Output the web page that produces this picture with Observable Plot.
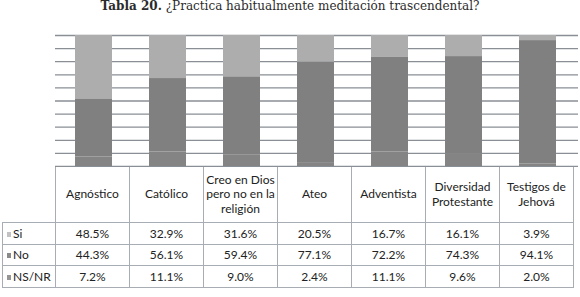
<!DOCTYPE html>
<html><head><meta charset="utf-8">
<script src="https://cdn.jsdelivr.net/npm/d3@7"></script>
<script src="https://cdn.jsdelivr.net/npm/@observablehq/plot@0.6"></script>
<style>
body{margin:0;background:#fff;width:580px;height:297px;overflow:hidden;}
#title{font-family:"DejaVu Serif",serif;font-size:12px;color:#2b2b2b;height:20px;line-height:13px;text-align:center;white-space:nowrap;padding-top:0;}
#chart svg{display:block;}
table{border-collapse:collapse;table-layout:fixed;font-family:Lato,sans-serif;font-size:12px;color:#222;margin-left:2px;margin-top:-1px;}
td{border:1px solid #a7adb3;text-align:center;padding:0;overflow:hidden;}
td.lab{text-align:left;padding-left:4px;}
td.head{white-space:pre-line;line-height:14.5px;}
.sw{display:inline-block;width:4px;height:5px;margin-right:2px;vertical-align:1px;}
</style>
</head><body>
<div id="title"><b>Tabla 20.</b> ¿Practica habitualmente meditación trascendental?</div>
<div id="chart"></div>
<div id="tbl"></div>
<script>
const categories = ["Agnóstico","Católico","Creo en Dios pero no en la religión","Ateo","Adventista","Diversidad Protestante","Testigos de Jehová"];
const headerLabels = ["Agnóstico","Católico","Creo en Dios\npero no en la\nreligión","Ateo","Adventista","Diversidad\nProtestante","Testigos de\nJehová"];
const seriesNames = ["Si","No","NS/NR"];
const si   = [48.5,32.9,31.6,20.5,16.7,16.1,3.9];
const no   = [44.3,56.1,59.4,77.1,72.2,74.3,94.1];
const nsnr = [7.2,11.1,9.0,2.4,11.1,9.6,2.0];
const yTicks = [0,0.1,0.2,0.3,0.4,0.5,0.6,0.7,0.8,0.9,1];
const seriesValues = {"Si": si, "No": no, "NS/NR": nsnr};

const rows = [];
for (const s of seriesNames) categories.forEach((c,i) => rows.push({cat:c, series:s, value:seriesValues[s][i]}));

const plot = Plot.plot({
  width: 580, height: 147,
  marginTop: 15, marginBottom: 1, marginLeft: 55, marginRight: 2,
  x: {domain: categories, range: [55, 575], paddingInner: 0.5, paddingOuter: 0.25, axis: null},
  y: {domain: [0, 1], axis: null},
  color: {domain: seriesNames, range: ["#adadad", "#808080", "#848484"]},
  marks: [
    Plot.ruleY(yTicks, {stroke: "#8a8f95", strokeWidth: 1.3}),
    Plot.barY(rows, {x: "cat", y: "value", fill: "series", order: ["NS/NR","No","Si"], offset: "normalize"})
  ]
});
document.getElementById("chart").appendChild(plot);

const xs = plot.scale("x");
const step = xs.step;
const left0 = xs.range[0];
const labW = left0 - 2;

const table = d3.select("#tbl").append("table");
const cg = table.append("colgroup");
cg.append("col").style("width", labW + "px");
categories.forEach(() => cg.append("col").style("width", step + "px"));
const hr = table.append("tr").style("height", "56px");
hr.append("td").style("border-top", "none").style("border-left", "none");
headerLabels.forEach(h => hr.append("td").attr("class", "head").text(h));
const swatchColors = {"Si": "#c2c2c2", "No": "#8a8a8a", "NS/NR": "#959595"};
seriesNames.forEach(s => {
  const tr = table.append("tr").style("height", "21.5px");
  const lab = tr.append("td").attr("class", "lab");
  lab.append("span").attr("class", "sw").style("background", swatchColors[s]);
  lab.append("span").text(s);
  seriesValues[s].forEach(v => tr.append("td").text(v.toFixed(1) + "%"));
});
table.style("width", (labW + step * categories.length) + "px");
</script>
</body></html>
